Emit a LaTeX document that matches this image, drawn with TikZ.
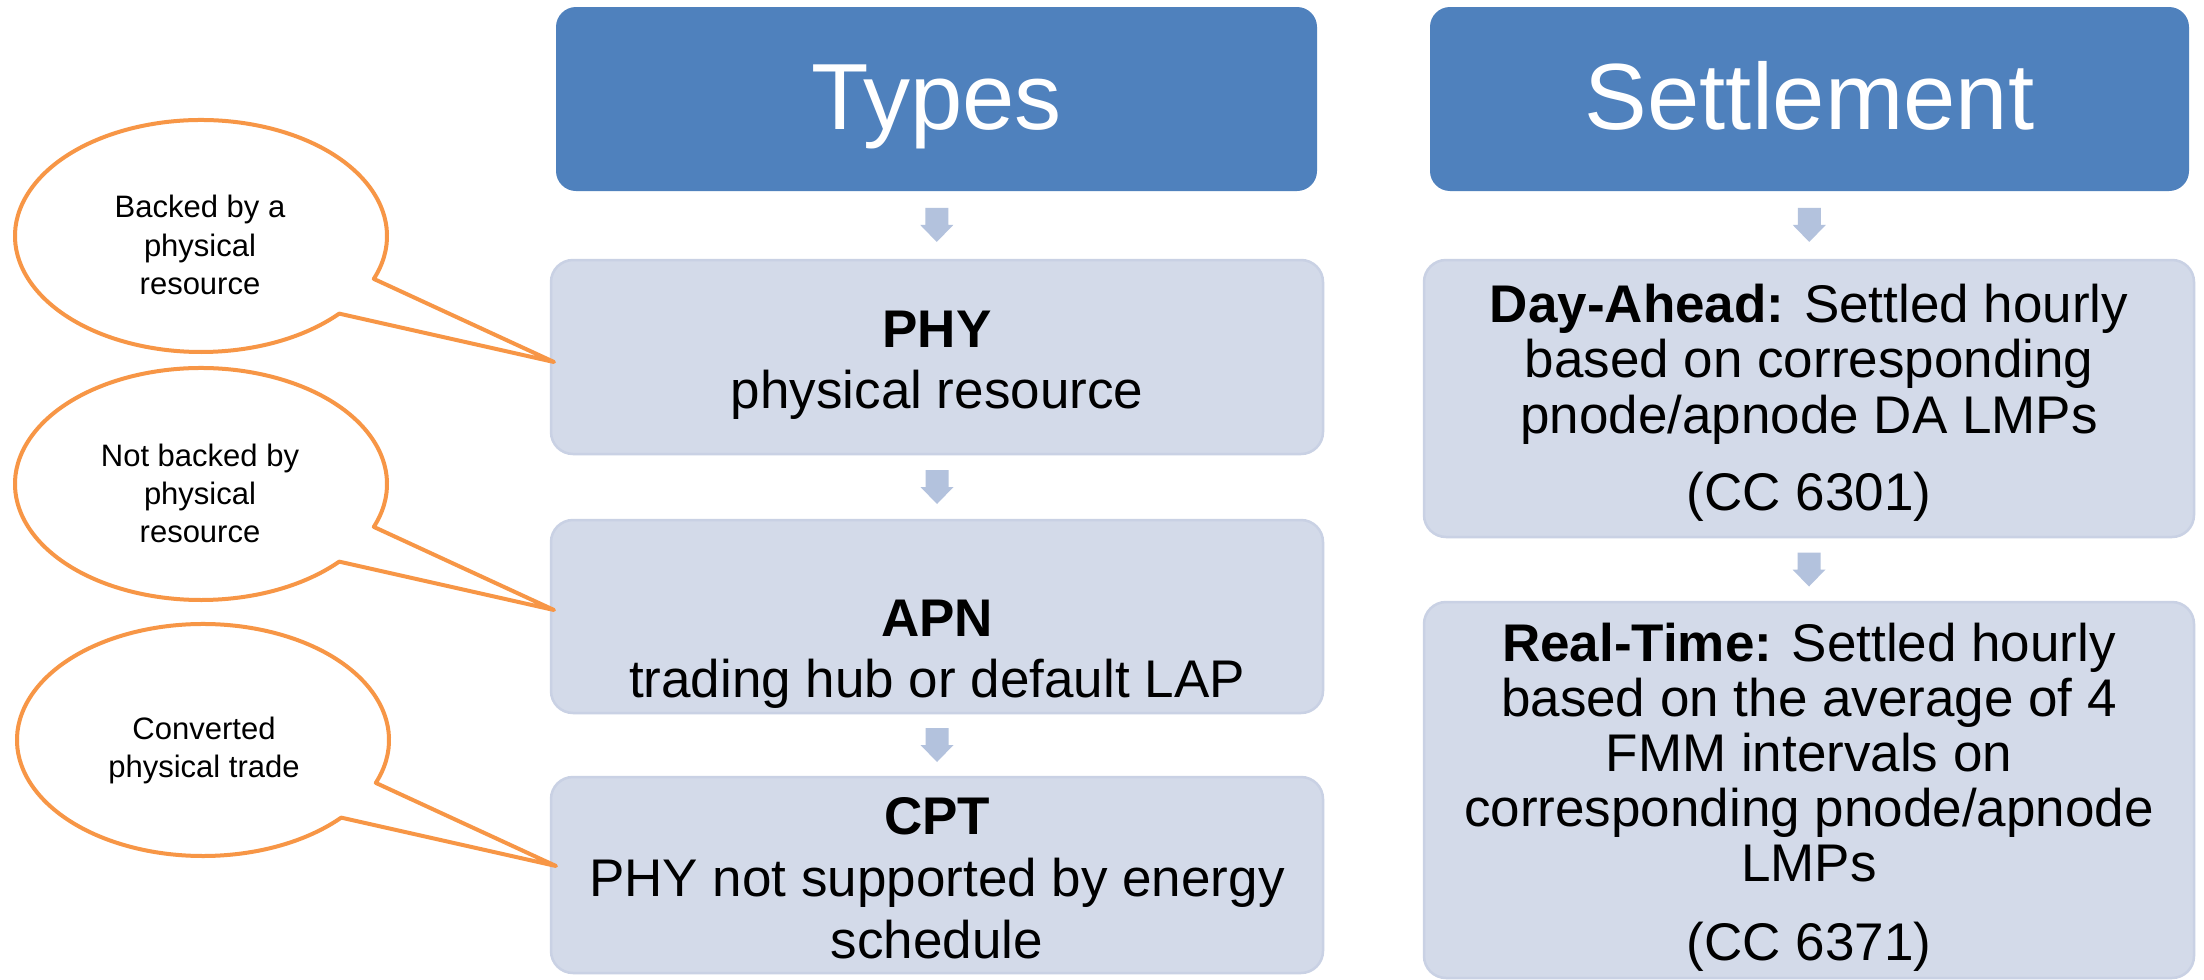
\documentclass[tikz,border=0pt]{standalone}
\usepackage{fontspec}
\setmainfont{Liberation Sans}
\usetikzlibrary{calc}

\definecolor{hdrblue}{HTML}{4F81BD}
\definecolor{boxfill}{HTML}{D3DAE9}
\definecolor{boxedge}{HTML}{C9D1E4}
\definecolor{flowblue}{HTML}{B3C2DD}
\definecolor{bubbleorange}{HTML}{F79646}

% block arrow centred in the gap between two stacked boxes
\newcommand\flowarrow[2]{%
  \fill[flowblue] let \p1=($(#1.south)!.5!(#2.north)$) in
    (\x1-11.5,\y1+17) -- (\x1+11.5,\y1+17) -- (\x1+11.5,\y1) -- (\x1+16.5,\y1)
    -- (\x1,\y1-17) -- (\x1-16.5,\y1) -- (\x1-11.5,\y1) -- cycle;}

% speech bubble: ellipse with a pointed tail
\newcommand\speechbubble[2]{%
  \draw[bubble] ($(#1)+(-21.7:186 and 116)$)
    arc[start angle=-21.7, end angle=318, x radius=186, y radius=116]
    -- ($(#1)+#2$) -- cycle;}

\begin{document}
\begin{tikzpicture}[x=1pt,y=1pt,
  hdr/.style={fill=hdrblue, rounded corners=20pt, inner sep=0pt},
  itembox/.style={fill=boxfill, draw=boxedge, line width=2.5pt, rounded corners=22pt, inner sep=0pt},
  bubble/.style={draw=bubbleorange, fill=white, line width=4pt, line join=round},
  hdrtext/.style={anchor=base, text=white, font=\fontsize{94}{100}\selectfont, inner sep=0pt},
  boxtext/.style={anchor=base, font=\fontsize{53}{60}\selectfont, inner sep=0pt},
  notetext/.style={anchor=base, font=\fontsize{31}{36}\selectfont, inner sep=0pt}]

\fill[white] (0,0) rectangle (2204,-980);
\useasboundingbox (0,0) rectangle (2204,-980);

% headers
\node[hdr, minimum width=761pt, minimum height=184pt] (types) at (936.5,-99) {};
\node[hdr, minimum width=759pt, minimum height=184pt] (settle) at (1809.5,-99) {};

% left column
\node[itembox, minimum width=772pt, minimum height=194pt] (phy) at (937,-357) {};
\node[itembox, minimum width=772pt, minimum height=193pt] (apn) at (937,-616.5) {};
\node[itembox, minimum width=772pt, minimum height=196pt] (cpt) at (937,-875) {};

% right column
\node[itembox, minimum width=770pt, minimum height=277pt] (da) at (1809,-398.5) {};
\node[itembox, minimum width=770pt, minimum height=376pt] (rt) at (1809,-790) {};

% arrows
\flowarrow{types}{phy}
\flowarrow{phy}{apn}
\flowarrow{apn}{cpt}
\flowarrow{settle}{da}
\flowarrow{da}{rt}

% callouts
\coordinate (e1) at (201,-236);
\coordinate (e2) at (201,-484);
\coordinate (e3) at (203,-740);
\speechbubble{e1}{(353,-126)}
\speechbubble{e2}{(353,-126)}
\speechbubble{e3}{(353,-126)}

% header texts
\node[hdrtext] (typesT) at (936.5,-129) {Types};
\node[hdrtext] (settleT) at (1809.5,-129) {Settlement};

% left column texts
\node[boxtext] (phyA) at (937,-347) {\bfseries PHY};
\node[boxtext] (phyB) at (937,-408) {physical resource};
\node[boxtext] (apnA) at (937,-636) {\bfseries APN};
\node[boxtext] (apnB) at (937,-697) {trading hub or default LAP};
\node[boxtext] (cptA) at (937,-834) {\bfseries CPT};
\node[boxtext] (cptB) at (937,-896) {PHY not supported by energy};
\node[boxtext] (cptC) at (937,-958) {schedule};

% right column texts
\node[boxtext] (daA) at (1809,-322) {\bfseries Day-Ahead:\mdseries{} Settled hourly};
\node[boxtext] (daB) at (1809,-377) {based on corresponding};
\node[boxtext] (daC) at (1809,-433) {pnode/apnode DA LMPs};
\node[boxtext] (daD) at (1809,-510) {(CC 6301)};
\node[boxtext] (rtA) at (1809,-661) {\bfseries Real-Time:\mdseries{} Settled hourly};
\node[boxtext] (rtB) at (1809,-716) {based on the average of 4};
\node[boxtext] (rtC) at (1809,-771) {FMM intervals on};
\node[boxtext] (rtD) at (1809,-826) {corresponding pnode/apnode};
\node[boxtext] (rtE) at (1809,-881) {LMPs};
\node[boxtext] (rtF) at (1809,-960) {(CC 6371)};

% callout texts
\node[notetext] (n1a) at (200,-217) {Backed by a};
\node[notetext] (n1b) at (200,-256) {physical};
\node[notetext] (n1c) at (200,-294) {resource};
\node[notetext] (n2a) at (200,-466) {Not backed by};
\node[notetext] (n2b) at (200,-504) {physical};
\node[notetext] (n2c) at (200,-542) {resource};
\node[notetext] (n3a) at (204,-739) {Converted};
\node[notetext] (n3b) at (204,-777) {physical trade};
\end{tikzpicture}
\end{document}
